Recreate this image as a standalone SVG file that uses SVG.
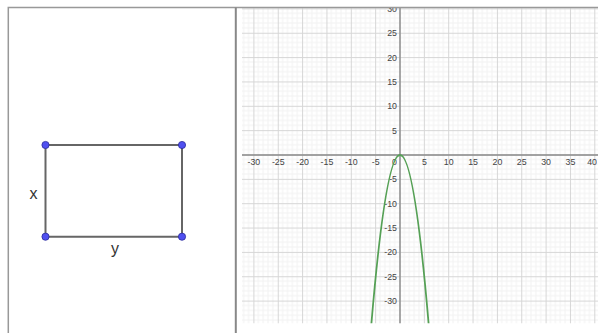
<svg xmlns="http://www.w3.org/2000/svg" width="598" height="333" viewBox="0 0 598 333">
<style>
.frame{stroke:#999;stroke-width:1.5;fill:none}
.div{stroke:#888;stroke-width:2;fill:none}
.axis{stroke:#8a8a8a;stroke-width:1.4;fill:none}
.tick{font-family:"Liberation Sans",Arial,sans-serif;font-size:8.8px;fill:#444}
.tx{text-anchor:middle}
.ty{text-anchor:end}
.side{stroke:#666;stroke-width:2;fill:none;stroke-linecap:round}
.pt{fill:#5050f0;stroke:#2b2b9a;stroke-width:0.8}
.lbl{font-family:"Liberation Sans",Arial,sans-serif;font-size:16px;fill:#333;text-anchor:middle}
.curve{stroke:#55a055;stroke-width:1.8;fill:none}
</style>
<defs>
<pattern id="grid" patternUnits="userSpaceOnUse" x="399.5" y="154.5" width="24.35" height="24.35">
<rect x="4.37" y="0" width="1" height="24.35" fill="#f2f2f2"/>
<rect x="9.24" y="0" width="1" height="24.35" fill="#f2f2f2"/>
<rect x="14.11" y="0" width="1" height="24.35" fill="#f2f2f2"/>
<rect x="18.98" y="0" width="1" height="24.35" fill="#f2f2f2"/>
<rect y="4.37" x="0" height="1" width="24.35" fill="#f2f2f2"/>
<rect y="9.24" x="0" height="1" width="24.35" fill="#f2f2f2"/>
<rect y="14.11" x="0" height="1" width="24.35" fill="#f2f2f2"/>
<rect y="18.98" x="0" height="1" width="24.35" fill="#f2f2f2"/>
<rect x="0" y="0" width="1" height="24.35" fill="#d6d6d6"/>
<rect x="0" y="0" width="24.35" height="1" fill="#d6d6d6"/>
</pattern>
<clipPath id="gclip"><rect x="242" y="8" width="356" height="315.5"/></clipPath>
</defs>
<rect width="598" height="333" fill="#fff"/>

<g id="graph">
<g clip-path="url(#gclip)">
<rect x="242" y="8" width="356" height="315.5" fill="url(#grid)"/>
<path class="axis" d="M242 155H598M400 8V323.5"/>
<g class="tick tx">
<text x="253.9" y="165">-30</text>
<text x="278.25" y="165">-25</text>
<text x="302.6" y="165">-20</text>
<text x="326.95" y="165">-15</text>
<text x="351.3" y="165">-10</text>
<text x="375.65" y="165">-5</text>
<text x="424.35" y="165">5</text>
<text x="448.7" y="165">10</text>
<text x="473.05" y="165">15</text>
<text x="497.4" y="165">20</text>
<text x="521.75" y="165">25</text>
<text x="546.1" y="165">30</text>
<text x="570.45" y="165">35</text>
<text x="597" y="165" text-anchor="end">40</text>
</g>
<g class="tick ty">
<text x="397" y="164.5">0</text>
<text x="397" y="11.9">30</text>
<text x="397" y="36.3">25</text>
<text x="397" y="60.6">20</text>
<text x="397" y="85">15</text>
<text x="397" y="109.3">10</text>
<text x="397" y="133.7">5</text>
<text x="397" y="182.4">-5</text>
<text x="397" y="206.7">-10</text>
<text x="397" y="231.1">-15</text>
<text x="397" y="255.4">-20</text>
<text x="397" y="279.8">-25</text>
<text x="397" y="304.1">-30</text>
</g>
<path id="parabola" class="curve" d="M371.4 323.5Q400 -13.5 428.6 323.5"/>
</g>
</g>

<path class="frame" d="M8.3 333V7.5H598"/>
<path class="div" d="M235.8 7.5V333"/>

<g id="connectors">
<path class="side" d="M45.5 145H182"/>
<path class="side" d="M182 145V236.7"/>
<path class="side" d="M182 236.7H45.5"/>
<path class="side" d="M45.5 236.7V145"/>
</g>
<g id="A"><circle class="pt" cx="45.5" cy="145" r="3.6"/></g>
<g id="B"><circle class="pt" cx="182" cy="145" r="3.6"/></g>
<g id="C"><circle class="pt" cx="182" cy="236.7" r="3.6"/></g>
<g id="D"><circle class="pt" cx="45.5" cy="236.7" r="3.6"/></g>
<g id="label-x"><text class="lbl" x="33.5" y="198.5">x</text></g>
<g id="label-y"><text class="lbl" x="115" y="254">y</text></g>
</svg>
